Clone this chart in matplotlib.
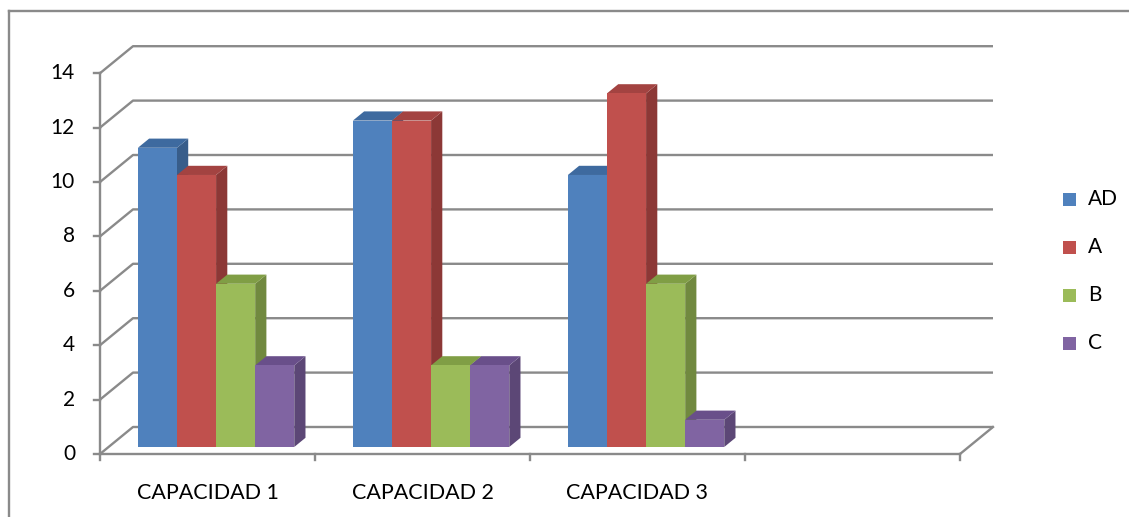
import matplotlib
matplotlib.use("Agg")
import matplotlib.pyplot as plt
from matplotlib.patches import Polygon, Rectangle

plt.rcParams['font.family'] = ['Lato', 'DejaVu Sans']

categories = ["CAPACIDAD 1", "CAPACIDAD 2", "CAPACIDAD 3", ""]
series = ["AD", "A", "B", "C"]
ad = [11, 12, 10]
a = [10, 12, 13]
b = [6, 3, 6]
c = [3, 3, 1]
values = [ad, a, b, c]
yticks = list(range(0, 15, 2))

front = ["#4F81BD", "#C0504D", "#9BBB59", "#8064A2"]
top = ["#3E6A9F", "#A34341", "#809E45", "#694F8A"]
side = ["#385D8A", "#8C3836", "#71893F", "#5C4776"]
grid_col = "#8a8a8a"

W, H = 1129, 517
fig = plt.figure(figsize=(W / 100, H / 100), dpi=100)

# axes box in pixels: front-left corner at (100, 454), back-right top at (995, 45)
px_unit_x = 215.0
px_unit_y = 27.2
left, right, bottom, topp = 100, 995, 454, 45
ax = fig.add_axes([left / W, (H - bottom) / H, (right - left) / W, (bottom - topp) / H])
ax.set_xlim(0, (right - left) / px_unit_x)
ax.set_ylim(0, (bottom - topp) / px_unit_y)
ax.axis("off")

# depth of the floor, in data units
DX = 33 / px_unit_x
DY = 27 / px_unit_y
ncat = len(categories)
ymax = yticks[-1]

# walls and gridlines
for v in yticks:
    ax.plot([0, DX, ncat + DX], [v, v + DY, v + DY], color=grid_col, lw=1.7,
            solid_capstyle="butt", zorder=1, clip_on=False)
ax.plot([ncat, ncat + DX], [0, DY], color=grid_col, lw=1.7, zorder=1, clip_on=False)

# front axes
ax.plot([0, ncat], [0, 0], color=grid_col, lw=1.7, zorder=5, clip_on=False)
ax.plot([0, 0], [0, ymax], color=grid_col, lw=1.7, zorder=5, clip_on=False)
tick_x = 6 / px_unit_x
tick_y = 6 / px_unit_y
for v in yticks:
    ax.plot([-tick_x, 0], [v, v], color=grid_col, lw=1.7, zorder=5, clip_on=False)
    ax.text(-25 / px_unit_x, v, str(v), ha="right", va="center", fontsize=15)
for i in range(ncat + 1):
    ax.plot([i, i], [0, -tick_y], color=grid_col, lw=1.7, zorder=5, clip_on=False)
for i, name in enumerate(categories):
    ax.text(i + 0.5, -39 / px_unit_y, name, ha="center", va="center", fontsize=15.5)

# 3d columns: gap width 150%, bars sit between 26% and 60% of the floor depth
bw = 1 / (len(series) + 1.5)
f0, f1 = 0.26, 0.60
ddx, ddy = (f1 - f0) * DX, (f1 - f0) * DY
for i in range(len(ad)):
    for j in range(len(series)):
        v = values[j][i]
        x0 = i + 0.75 * bw + j * bw + f0 * DX
        x1 = x0 + bw
        y0 = f0 * DY
        y1 = y0 + v
        z = 10 + i * 10 + j
        ax.add_patch(Polygon([(x1, y0), (x1 + ddx, y0 + ddy), (x1 + ddx, y1 + ddy), (x1, y1)],
                             closed=True, facecolor=side[j], edgecolor="none", zorder=z))
        ax.add_patch(Polygon([(x0, y1), (x1, y1), (x1 + ddx, y1 + ddy), (x0 + ddx, y1 + ddy)],
                             closed=True, facecolor=top[j], edgecolor="none", zorder=z))
        ax.add_patch(Rectangle((x0, y0), bw, v, facecolor=front[j], edgecolor="none", zorder=z))

# legend
for k, name in enumerate(series):
    cy = 199 + k * 48
    fig.add_artist(Rectangle((1063 / W, (H - cy - 7) / H), 13 / W, 13 / H,
                             facecolor=front[k], edgecolor="none", transform=fig.transFigure))
    fig.text(1088 / W, (H - cy) / H, name, ha="left", va="center", fontsize=15)

# chart border
fig.add_artist(plt.Line2D([9 / W, 9 / W], [0, (H - 11) / H], color=grid_col, lw=1.7,
                          transform=fig.transFigure))
fig.add_artist(plt.Line2D([9 / W, 1], [(H - 11) / H, (H - 11) / H], color=grid_col, lw=1.7,
                          transform=fig.transFigure))

fig.savefig("out.png", dpi=100)
